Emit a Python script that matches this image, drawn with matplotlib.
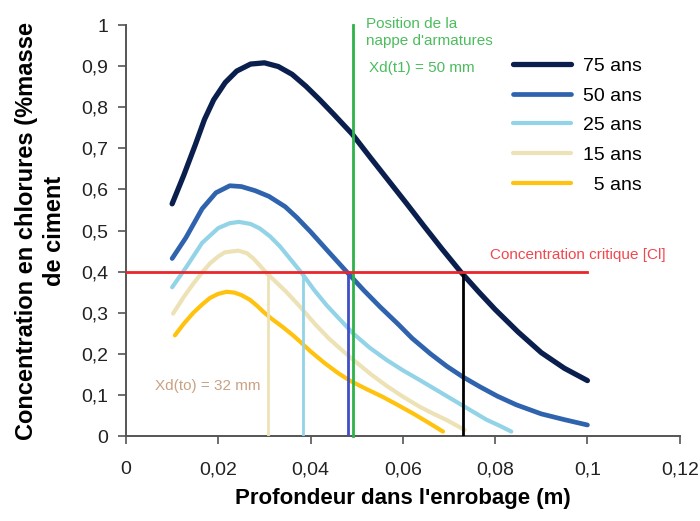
import matplotlib
matplotlib.use('Agg')
import matplotlib.pyplot as plt

plt.rcParams['font.family'] = ['Liberation Sans', 'DejaVu Sans']

# depth (m) and chloride concentration
x_75 = [0.0100, 0.0125, 0.0150, 0.0170, 0.0190, 0.0215, 0.0240, 0.0270,
        0.0300, 0.0330, 0.0360, 0.0390, 0.0420, 0.0450, 0.0490, 0.0530,
        0.0570, 0.0610, 0.0645, 0.0685, 0.0725, 0.0765, 0.0800, 0.0850,
        0.0900, 0.0950, 0.1000]
y_75 = [0.565, 0.634, 0.708, 0.770, 0.818, 0.860, 0.888, 0.905,
        0.908, 0.899, 0.880, 0.851, 0.818, 0.783, 0.735, 0.677,
        0.620, 0.563, 0.512, 0.455, 0.400, 0.350, 0.308, 0.253,
        0.203, 0.165, 0.135]

x_50 = [0.0100, 0.0130, 0.0165, 0.0195, 0.0225, 0.0250, 0.0280, 0.0310,
        0.0345, 0.0370, 0.0400, 0.0440, 0.0478, 0.0515, 0.0550, 0.0590,
        0.0620, 0.0660, 0.0695, 0.0730, 0.0767, 0.0805, 0.0846, 0.0900,
        0.0950, 0.1000]
y_50 = [0.432, 0.483, 0.553, 0.592, 0.609, 0.607, 0.597, 0.583,
        0.558, 0.532, 0.497, 0.447, 0.400, 0.355, 0.315, 0.272,
        0.238, 0.200, 0.170, 0.144, 0.120, 0.097, 0.076, 0.054,
        0.040, 0.027]

x_25 = [0.0100, 0.0130, 0.0165, 0.0200, 0.0225, 0.0245, 0.0270, 0.0290,
        0.0312, 0.0334, 0.0358, 0.0382, 0.0408, 0.0435, 0.0460, 0.0492,
        0.0528, 0.0565, 0.0600, 0.0637, 0.0673, 0.0709, 0.0745, 0.0781,
        0.0810, 0.0835]
y_25 = [0.362, 0.410, 0.470, 0.506, 0.518, 0.521, 0.516, 0.505,
        0.486, 0.461, 0.428, 0.395, 0.355, 0.318, 0.288, 0.250,
        0.215, 0.185, 0.160, 0.136, 0.112, 0.088, 0.064, 0.040,
        0.025, 0.011]

x_15 = [0.0102, 0.0125, 0.0146, 0.0165, 0.0182, 0.0200, 0.0214, 0.0243,
        0.0262, 0.0276, 0.0290, 0.0305, 0.0325, 0.0348, 0.0377, 0.0410,
        0.0440, 0.0470, 0.0492, 0.0530, 0.0565, 0.0600, 0.0637, 0.0665,
        0.0695, 0.0734]
y_15 = [0.298, 0.338, 0.371, 0.398, 0.420, 0.437, 0.447, 0.451,
        0.445, 0.432, 0.415, 0.396, 0.375, 0.350, 0.315, 0.272,
        0.237, 0.207, 0.186, 0.151, 0.122, 0.096, 0.071, 0.055,
        0.039, 0.015]

x_5 = [0.0106, 0.0125, 0.0146, 0.0165, 0.0182, 0.0200, 0.0218, 0.0235,
       0.0250, 0.0268, 0.0283, 0.0300, 0.0315, 0.0340, 0.0362, 0.0377,
       0.0400, 0.0430, 0.0460, 0.0485, 0.0520, 0.0557, 0.0590, 0.0622,
       0.0655, 0.0687]
y_5 = [0.245, 0.273, 0.300, 0.320, 0.336, 0.346, 0.351, 0.349,
       0.343, 0.332, 0.318, 0.300, 0.286, 0.265, 0.245, 0.230,
       0.206, 0.178, 0.153, 0.135, 0.115, 0.095, 0.075, 0.055,
       0.033, 0.011]

labels = ['75 ans', '50 ans', '25 ans', '15 ans', '  5 ans']
colors = ['#0b1f4e', '#2f63ad', '#93d3e8', '#ede2b6', '#ffc20e']

# critical concentration and the depths where each curve crosses it
c_crit = 0.4
x_crit_end = 0.1
x_cross = [0.0731, 0.0482, 0.0384, 0.0308]
cross_colors = ['#000000', '#3f4fc4', '#93d3e8', '#ede2b6']
x_nappe = 0.0491

x_ticks = [0, 0.02, 0.04, 0.06, 0.08, 0.1, 0.12]
x_ticklabels = ['0', '0,02', '0,04', '0,06', '0,08', '0,1', '0,12']
y_ticks = [0, 0.1, 0.2, 0.3, 0.4, 0.5, 0.6, 0.7, 0.8, 0.9, 1]
y_ticklabels = ['0', '0,1', '0,2', '0,3', '0,4', '0,5', '0,6', '0,7', '0,8',
                '0,9', '1']

fig = plt.figure(figsize=(7, 5.21), dpi=100)
ax = fig.add_axes([0.18, 0.163, 0.791, 0.789])

series = [(x_75, y_75), (x_50, y_50), (x_25, y_25), (x_15, y_15), (x_5, y_5)]
widths = [3.8, 3.4, 3.0, 3.0, 3.0]
for (xs, ys), lab, col, lw in zip(series, labels, colors, widths):
    ax.plot(xs, ys, color=col, lw=lw, label=lab, solid_capstyle='round',
            solid_joinstyle='round', zorder=2)

# vertical markers from the axis up to the critical level
for xv, col in zip(x_cross, cross_colors):
    ax.plot([xv, xv], [0, c_crit], color=col, lw=2.0, zorder=3)
ax.plot([x_nappe, x_nappe], [0, 1.0], color='#2eb24b', lw=2.0, zorder=4,
        clip_on=False)
ax.plot([0, x_crit_end], [c_crit, c_crit], color='#e8262c', lw=2.0, zorder=4)

ax.text(0.052, 1.019, "Position de la\nnappe d'armatures", color='#4cbd5e',
        fontsize=11, ha='left', va='top', linespacing=1.25)
ax.text(0.0527, 0.895, 'Xd(t1) = 50 mm', color='#4cbd5e', fontsize=11,
        ha='left', va='center')
ax.text(0.0788, 0.44, 'Concentration critique [Cl]', color='#f0484e',
        fontsize=11, ha='left', va='center')
ax.text(0.0062, 0.121, 'Xd(to) = 32 mm', color='#c9a283', fontsize=11,
        ha='left', va='center')

ax.set_xlim(0, 0.12)
ax.set_ylim(0, 1)
ax.set_xticks(x_ticks)
ax.set_xticklabels(x_ticklabels)
ax.set_yticks(y_ticks)
ax.set_yticklabels(y_ticklabels)
ax.tick_params(axis='both', labelsize=14, length=6, width=1.2,
               color='#555555', labelcolor='#222222')
ax.tick_params(axis='x', pad=12)
ax.tick_params(axis='y', pad=7)

for side in ['top', 'right']:
    ax.spines[side].set_visible(False)
for side in ['left', 'bottom']:
    ax.spines[side].set_color('#555555')
    ax.spines[side].set_linewidth(1.4)

ax.set_xlabel("Profondeur dans l'enrobage (m)", fontsize=16,
              fontweight='bold')
ax.xaxis.set_label_coords(0.5, -0.127)
ax.set_ylabel('Concentration en chlorures (%masse\nde ciment', fontsize=17,
              fontweight='bold', linespacing=1.3)
ax.yaxis.set_label_coords(-0.108, 0.5)

ax.legend(loc='upper left', bbox_to_anchor=(0.733, 0.890),
          bbox_transform=fig.transFigure, frameon=False, fontsize=14,
          handlelength=3.0, handletextpad=0.6, labelspacing=0.62,
          borderpad=0, borderaxespad=0)

fig.savefig('out.png', dpi=100)
